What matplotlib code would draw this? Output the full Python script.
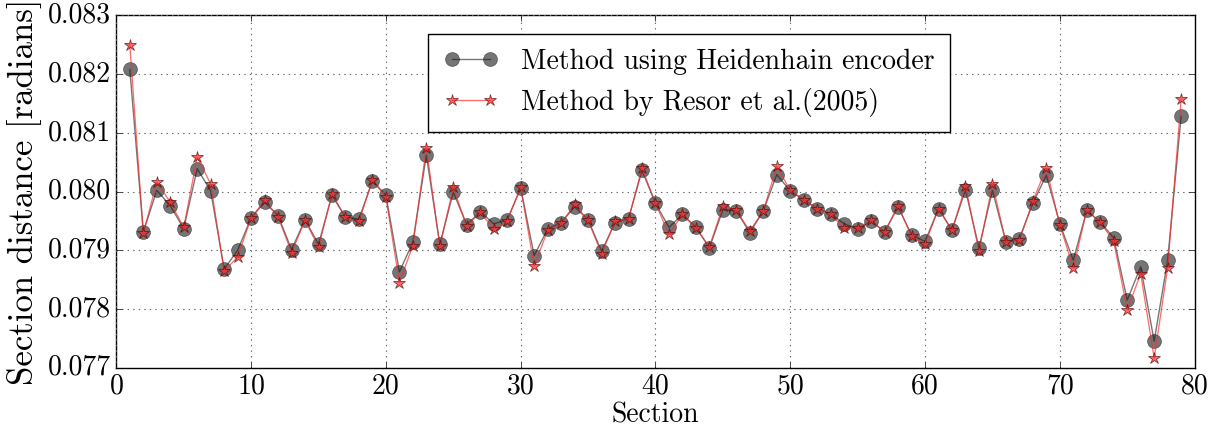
import matplotlib
matplotlib.use('Agg')
import matplotlib.pyplot as plt
import numpy as np

plt.style.use('classic')
plt.rcParams['font.family'] = 'serif'
plt.rcParams['font.serif'] = ['cmr10', 'DejaVu Serif']
plt.rcParams['mathtext.fontset'] = 'cm'
plt.rcParams['axes.unicode_minus'] = False

# Section index 1..79
sections = np.arange(1, 80)

# Method using Heidenhain encoder
heidenhain = [
    0.08208, 0.07931, 0.08002, 0.07976, 0.07937, 0.08039, 0.08001, 0.07868, 0.07900, 0.07955,
    0.07982, 0.07959, 0.07901, 0.07952, 0.07910, 0.07994, 0.07956, 0.07953, 0.08018, 0.07994,
    0.07863, 0.07914, 0.08062, 0.07910, 0.07999, 0.07943, 0.07966, 0.07945, 0.07952, 0.08006,
    0.07891, 0.07936, 0.07947, 0.07974, 0.07952, 0.07898, 0.07947, 0.07954, 0.08036, 0.07980,
    0.07939, 0.07961, 0.07939, 0.07904, 0.07969, 0.07967, 0.07930, 0.07967, 0.08029, 0.08001,
    0.07986, 0.07971, 0.07962, 0.07945, 0.07936, 0.07950, 0.07931, 0.07974, 0.07926, 0.07915,
    0.07971, 0.07934, 0.08003, 0.07904, 0.08002, 0.07914, 0.07920, 0.07980, 0.08028, 0.07945,
    0.07883, 0.07968, 0.07948, 0.07921, 0.07815, 0.07872, 0.07745, 0.07883, 0.08128,
]

# Method by Resor et al. (2005)
resor = [
    0.08250, 0.07929, 0.08016, 0.07982, 0.07939, 0.08059, 0.08013, 0.07864, 0.07889, 0.07955,
    0.07985, 0.07957, 0.07896, 0.07951, 0.07905, 0.07996, 0.07956, 0.07949, 0.08020, 0.07990,
    0.07845, 0.07908, 0.08075, 0.07907, 0.08007, 0.07941, 0.07965, 0.07936, 0.07950, 0.08007,
    0.07873, 0.07934, 0.07946, 0.07978, 0.07951, 0.07894, 0.07949, 0.07953, 0.08040, 0.07980,
    0.07927, 0.07961, 0.07938, 0.07906, 0.07975, 0.07968, 0.07933, 0.07967, 0.08043, 0.08002,
    0.07986, 0.07971, 0.07961, 0.07938, 0.07938, 0.07951, 0.07931, 0.07976, 0.07924, 0.07910,
    0.07971, 0.07934, 0.08009, 0.07898, 0.08013, 0.07914, 0.07917, 0.07984, 0.08040, 0.07943,
    0.07870, 0.07968, 0.07948, 0.07915, 0.07799, 0.07860, 0.07716, 0.07870, 0.08157,
]

fig = plt.figure(figsize=(12.17, 4.30), dpi=100)
fig.patch.set_facecolor('white')
ax = fig.add_axes([0.0956, 0.145, 0.886, 0.819])

ax.plot(sections, heidenhain, 'o-', color='#1a1a1a', alpha=0.6, markersize=10,
        markeredgecolor='#1a1a1a', linewidth=1, label='Method using Heidenhain encoder')
ax.plot(sections, resor, '*-', color='#ff2a2a', alpha=0.7, markersize=9,
        markeredgecolor='#500000', markeredgewidth=0.6, linewidth=0.9,
        label='Method by Resor et al.(2005)')

ax.set_xlim(0, 80)
ax.set_ylim(0.077, 0.083)
ax.set_xticks(np.arange(0, 81, 10))
ax.set_yticks(np.arange(0.077, 0.0831, 0.001))
ax.set_yticklabels(['%.3f' % v for v in np.arange(0.077, 0.0831, 0.001)])
ax.tick_params(labelsize=20)
ax.grid(True, linestyle=':', color='#666666', linewidth=0.8)

ax.set_xlabel('Section', fontsize=20, labelpad=2)
ax.set_ylabel('Section distance [radians]', fontsize=25, labelpad=4)

leg = ax.legend(loc='upper center', bbox_to_anchor=(0.531, 0.988), fontsize=20,
                numpoints=2, fancybox=False, framealpha=1, borderpad=0.55,
                handlelength=2.0, handletextpad=0.8, labelspacing=0.45)
leg.get_frame().set_edgecolor('black')

plt.savefig('out.png', dpi=100)
plt.close()
